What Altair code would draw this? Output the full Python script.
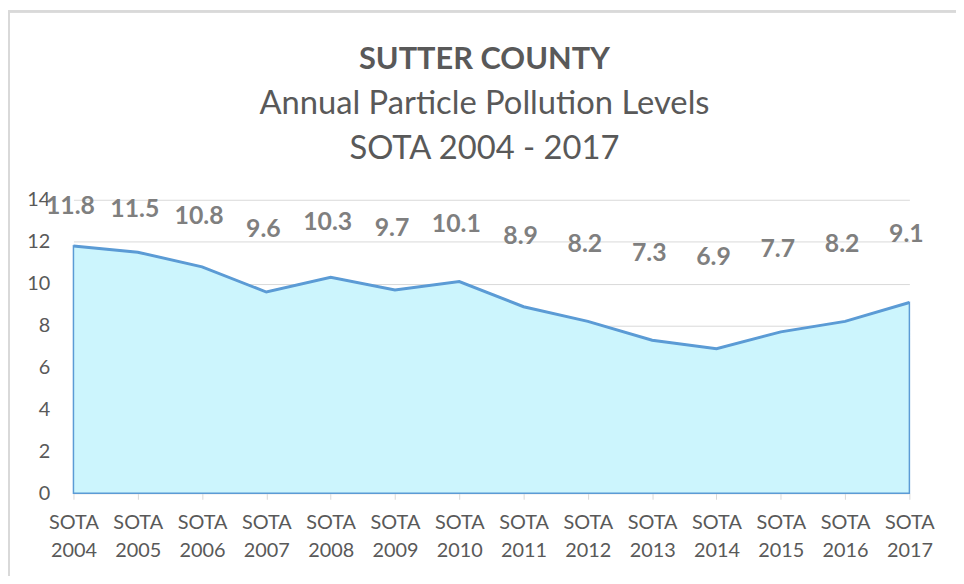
import altair as alt
import pandas as pd

categories = ["SOTA 2004", "SOTA 2005", "SOTA 2006", "SOTA 2007", "SOTA 2008",
              "SOTA 2009", "SOTA 2010", "SOTA 2011", "SOTA 2012", "SOTA 2013",
              "SOTA 2014", "SOTA 2015", "SOTA 2016", "SOTA 2017"]
values = [11.8, 11.5, 10.8, 9.6, 10.3, 9.7, 10.1, 8.9, 8.2, 7.3, 6.9, 7.7, 8.2, 9.1]
y_ticks = [0, 2, 4, 6, 8, 10, 12, 14]

df = pd.DataFrame({"cat": categories, "val": values})

FONT = "Lato"
GRAY = "#595959"
BLUE = "#5B9BD5"

x_enc = alt.X("cat:N", sort=categories,
              scale=alt.Scale(type="point", padding=0),
              axis=alt.Axis(title=None, labelAngle=0, labelExpr="split(datum.label, ' ')",
                            labelFontSize=20, labelColor=GRAY, labelFont=FONT,
                            labelLineHeight=29, labelPadding=13,
                            tickColor="#d9d9d9", tickSize=6, domain=False, grid=False))
y_enc = alt.Y("val:Q", scale=alt.Scale(domain=[0, 14], nice=False),
              axis=alt.Axis(title=None, values=y_ticks, labelFontSize=20, labelColor=GRAY,
                            labelFont=FONT, labelPadding=24, ticks=False, domain=False,
                            gridColor="#d9d9d9", gridWidth=1))

area = alt.Chart(df).mark_area(color="#CCF5FD", stroke=BLUE, strokeWidth=1.5,
                               interpolate="linear").encode(x=x_enc, y=y_enc)
line = alt.Chart(df).mark_line(color=BLUE, strokeWidth=3).encode(x=x_enc, y=y_enc)
labels = alt.Chart(df).transform_calculate(
    ly="7.8 + datum.val / 2"
).mark_text(font=FONT, fontSize=25, fontWeight="bold", color="#7F7F7F",
            baseline="middle", dx=-3).encode(
    x=x_enc, y=alt.Y("ly:Q"), text=alt.Text("val:Q", format=".1f"))

border_top = alt.Chart(df).mark_rule(color="#d9d9d9", strokeWidth=2).encode(
    x=alt.value(-66), x2=alt.value(960), y=alt.value(-190))
border_left = alt.Chart(df).mark_rule(color="#d9d9d9", strokeWidth=2).encode(
    x=alt.value(-65), y=alt.value(-191), y2=alt.value(400))

chart = alt.layer(area, line, labels, border_top, border_left).properties(
    width=843, height=296,
    autosize=alt.AutoSizeParams(type="none"),
    padding={"left": 66, "top": 191, "right": 47, "bottom": 81},
    title=alt.TitleParams(text="SUTTER COUNTY",
                          subtitle=["Annual Particle Pollution Levels", "SOTA 2004 - 2017"],
                          font=FONT, fontSize=31, fontWeight="bold", color=GRAY,
                          subtitleFont=FONT, subtitleFontSize=33, subtitleColor=GRAY,
                          subtitleLineHeight=46, subtitlePadding=12,
                          anchor="middle", offset=0, dy=159, dx=-7)
).configure_view(stroke=None)

chart.save("out.html", embed_options={"renderer": "svg", "actions": False})
